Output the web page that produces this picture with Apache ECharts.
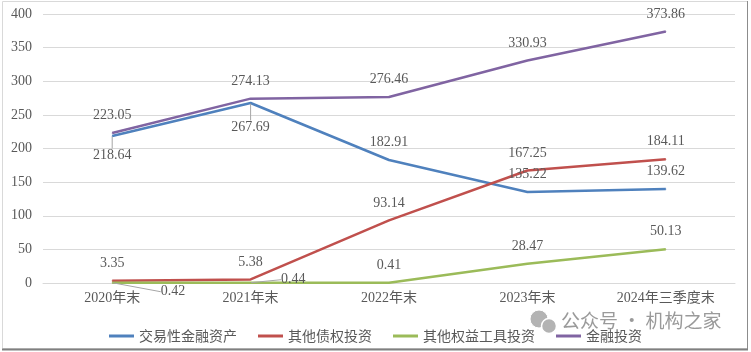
<!DOCTYPE html>
<html>
<head>
<meta charset="utf-8">
<script src="https://cdn.jsdelivr.net/npm/echarts@6/dist/echarts.min.js"></script>
<style>
  html, body { margin: 0; padding: 0; background: #fff; }
  #main { width: 751px; height: 352px; }
</style>
</head>
<body>
<div id="main"></div>
<script>
var categories = ['2020年末', '2021年末', '2022年末', '2023年末', '2024年三季度末'];
var seriesNames = ['交易性金融资产', '其他债权投资', '其他权益工具投资', '金融投资'];
var trading = [218.64, 267.69, 182.91, 135.22, 139.62];
var otherDebt = [3.35, 5.38, 93.14, 167.25, 184.11];
var otherEquity = [0.42, 0.44, 0.41, 28.47, 50.13];
var financialInv = [223.05, 274.13, 276.46, 330.93, 373.86];

var colors = ['#4F81BD', '#C0504D', '#9BBB59', '#8064A2'];
var numFont = '"Liberation Serif", "Noto Sans CJK SC", serif';

// labels that sit below / beside the point instead of above it
var labelTweaks = {
    0: {0: {position: 'bottom', dy: 2}, 1: {position: 'bottom', dy: 7}},
    2: {0: {position: 'right', dx: 38, dy: 9}, 1: {position: 'right', dx: 20, dy: -3}}
};

function makeSeries(idx, values) {
    var tw = labelTweaks[idx] || {};
    return {
        name: seriesNames[idx],
        type: 'line',
        symbol: 'circle',
        symbolSize: 1,
        lineStyle: {width: 2.5, color: colors[idx]},
        itemStyle: {color: colors[idx]},
        label: {
            show: true,
            position: 'top',
            distance: 10,
            color: '#595959',
            fontSize: 14,
            fontFamily: numFont,
            formatter: function (p) { return p.value.toFixed(2); }
        },
        labelLine: {show: false, length2: 0, lineStyle: {color: '#a6a6a6', width: 1}},
        labelLayout: function (p) {
            var t = tw[p.dataIndex];
            if (t) return {dx: t.dx || 0, dy: t.dy || 0};
            return {};
        },
        data: values.map(function (v, i) {
            var t = tw[i];
            if (t) return {value: v, label: {position: t.position}, labelLine: {show: true}};
            return v;
        })
    };
}

var myChart = echarts.init(document.getElementById('main'));
var option = {
    animation: false,
    color: colors,
    grid: {left: 43, right: 16, top: 14, bottom: 69},
    legend: {
        left: 'center',
        top: 324,
        icon: 'rect',
        itemWidth: 25,
        itemHeight: 3,
        itemGap: 21,
        textStyle: {color: '#595959', fontSize: 14, fontFamily: '"Noto Sans CJK SC", sans-serif'},
        data: seriesNames
    },
    xAxis: {
        type: 'category',
        data: categories,
        axisLine: {lineStyle: {color: '#d9d9d9', width: 1}},
        axisTick: {show: false},
        axisLabel: {color: '#595959', fontSize: 14, margin: 8, fontFamily: numFont}
    },
    yAxis: {
        type: 'value',
        min: 0,
        max: 400,
        interval: 50,
        axisLine: {show: false},
        axisTick: {show: false},
        splitLine: {lineStyle: {color: '#d9d9d9', width: 1}},
        axisLabel: {color: '#595959', fontSize: 14, margin: 11, fontFamily: numFont}
    },
    graphic: [
        {type: 'rect', shape: {x: 2.5, y: 1.5, width: 745, height: 347}, style: {fill: 'none', stroke: '#d9d9d9', lineWidth: 1}, z: -1},
        {type: 'line', shape: {x1: 747.5, y1: 1, x2: 747.5, y2: 350}, style: {stroke: '#8c8c8c', lineWidth: 1}},
        {type: 'line', shape: {x1: 2, y1: 349.5, x2: 748, y2: 349.5}, style: {stroke: '#808080', lineWidth: 2}},
        // watermark
        {type: 'circle', shape: {cx: 539, cy: 319, r: 9}, style: {fill: '#b3b3b3', stroke: '#fff', lineWidth: 1}, z: 100},
        {type: 'circle', shape: {cx: 549, cy: 326, r: 7.5}, style: {fill: '#b3b3b3', stroke: '#fff', lineWidth: 1.5}, z: 100},
        {type: 'text', left: 561, top: 311, z: 100, style: {text: '公众号 · 机构之家', fill: 'rgba(120,120,120,0.75)', fontSize: 19, fontFamily: '"Noto Sans CJK SC", sans-serif'}}
    ],
    series: [
        makeSeries(0, trading),
        makeSeries(1, otherDebt),
        makeSeries(2, otherEquity),
        makeSeries(3, financialInv)
    ]
};
myChart.setOption(option);
</script>
</body>
</html>
